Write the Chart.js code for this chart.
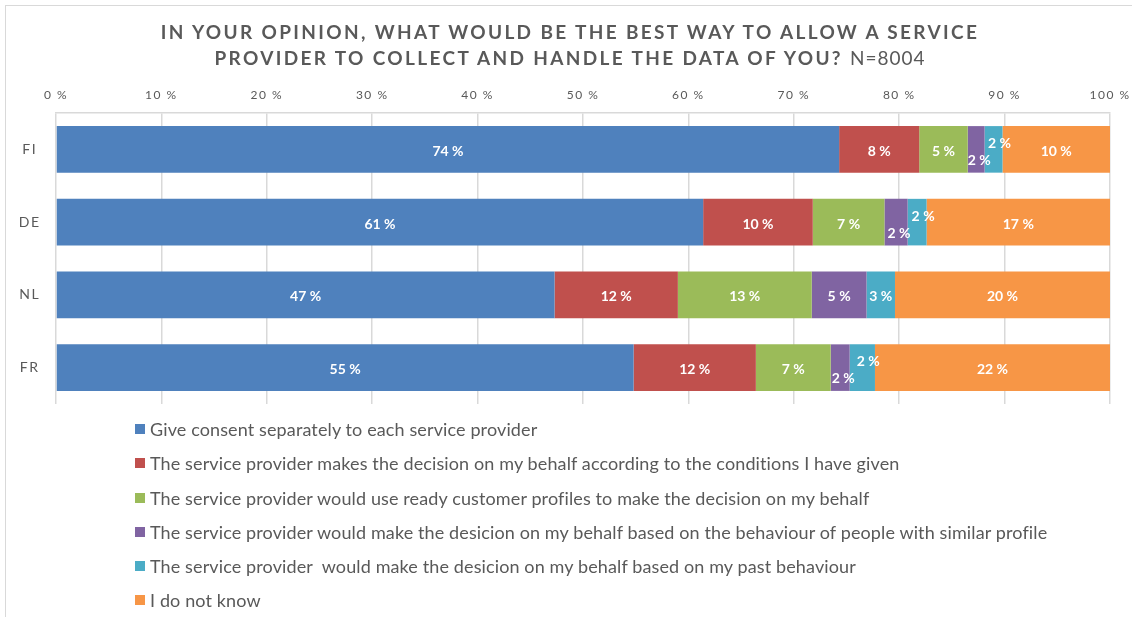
<!DOCTYPE html>
<html>
<head>
<meta charset="utf-8">
<script src="https://cdn.jsdelivr.net/npm/chart.js@4"></script>
<style>
  html, body { margin: 0; padding: 0; background: #fff; }
  #wrap { position: relative; width: 1132px; height: 617px; overflow: hidden; }
  #frame { position: absolute; left: 5px; top: 5px; width: 1140px; height: 630px;
           border-left: 1.5px solid #d9d9d9; border-top: 1.5px solid #d9d9d9; }
  #chart { position: absolute; left: 0; top: 0; }
  .title { position: absolute; left: 4px; width: 1132px; text-align: center;
           font-family: Lato, sans-serif; font-weight: bold; font-size: 19px;
           letter-spacing: 2.35px; color: #595959; white-space: nowrap; }
  .title span { font-weight: normal; letter-spacing: 1px; }
  #legend { position: absolute; left: 135px; top: 418px; font-family: Lato, sans-serif;
            font-size: 18px; letter-spacing: 0.12px; color: #595959; }
  .item { height: 34.3px; display: flex; align-items: flex-start; white-space: pre; }
  .box { width: 10px; height: 10px; margin: 6px 5px 0 0; flex: none; }
</style>
</head>
<body>
<div id="wrap">
  <div id="frame"></div>
  <canvas id="chart" width="1132" height="617"></canvas>
  <div class="title" style="top:20px">IN YOUR OPINION, WHAT WOULD BE THE BEST WAY TO ALLOW A SERVICE</div>
  <div class="title" style="top:46px">PROVIDER TO COLLECT AND HANDLE THE DATA OF YOU? <span>N=8004</span></div>
  <div id="legend"></div>
</div>
<script>
// countries, top to bottom
const countries = ['FI', 'DE', 'NL', 'FR'];

// answer shares per country, in %
const consentEach   = [74.3, 61.4, 47.3, 54.8];
const byConditions  = [7.6, 10.4, 11.7, 11.6];
const readyProfiles = [4.6, 6.8, 12.7, 7.1];
const similarPeople = [1.6, 2.2, 5.2, 1.8];
const pastBehaviour = [1.7, 1.8, 2.7, 2.4];
const dontKnow      = [10.2, 17.4, 20.4, 22.3];

const seriesNames = [
	'Give consent separately to each service provider',
	'The service provider makes the decision on my behalf according to the conditions I have given',
	'The service provider would use ready customer profiles to make the decision on my behalf',
	'The service provider would make the desicion on my behalf based on the behaviour of people with similar profile',
	'The service provider  would make the desicion on my behalf based on my past behaviour',
	'I do not know'
];
const seriesValues = [consentEach, byConditions, readyProfiles, similarPeople, pastBehaviour, dontKnow];
const colors = ['#4f81bd', '#c0504d', '#9bbb59', '#8064a2', '#4bacc6', '#f79646'];

const xTicks = [0, 10, 20, 30, 40, 50, 60, 70, 80, 90, 100];

const gray = '#595959';

// white value labels inside the bars; the tiny purple/teal ones get nudged apart
const barLabels = {
	id: 'barLabels',
	beforeDraw(chart) {
		chart.ctx.letterSpacing = '1.5px';
	},
	afterDatasetsDraw(chart) {
		const ctx = chart.ctx;
		ctx.save();
		ctx.letterSpacing = '0px';
		ctx.font = 'bold 14px Lato, sans-serif';
		ctx.fillStyle = '#fff';
		ctx.textAlign = 'center';
		ctx.textBaseline = 'middle';
		chart.data.datasets.forEach((ds, i) => {
			chart.getDatasetMeta(i).data.forEach((bar, j) => {
				const v = ds.data[j];
				const p = bar.getProps(['x', 'y', 'base'], true);
				let x = (p.x + p.base) / 2, y = p.y + 2;
				if (v < 2.5 && i === 3) { x += 3; y += 9; }
				if (v < 2.5 && i === 4) { x += 6; y -= 8; }
				ctx.fillText(Math.round(v) + ' %', x, y);
			});
		});
		ctx.restore();
	}
};

new Chart(document.getElementById('chart'), {
	type: 'bar',
	data: {
		labels: countries,
		datasets: seriesValues.map((vals, i) => ({
			label: seriesNames[i],
			data: vals,
			backgroundColor: colors[i],
			borderWidth: 0,
			categoryPercentage: 1,
			barPercentage: 0.64
		}))
	},
	options: {
		indexAxis: 'y',
		responsive: false,
		animation: false,
		layout: { padding: { top: 0, left: 0, right: 22, bottom: 213 } },
		plugins: {
			legend: { display: false },
			title: { display: false },
			tooltip: { enabled: false }
		},
		scales: {
			x: {
				position: 'top',
				stacked: true,
				min: 0,
				max: 100,
				afterFit: s => { s.height = 113; s.paddingLeft = 0; s.paddingRight = 0; },
				afterBuildTicks: s => { s.ticks = xTicks.map(v => ({ value: v })); },
				ticks: {
					padding: 11,
					color: gray,
					font: { family: 'Lato, sans-serif', size: 12 },
					callback: v => v + ' %'
				},
				grid: { color: '#d9d9d9', lineWidth: 1.5, drawTicks: false },
				border: { display: true, color: '#d9d9d9', width: 1.5 }
			},
			y: {
				stacked: true,
				afterFit: s => { s.width = 56; },
				ticks: {
					padding: 17,
					crossAlign: 'center',
					color: gray,
					font: { family: 'Lato, sans-serif', size: 14 }
				},
				grid: { display: false, drawTicks: false },
				border: { display: false }
			}
		}
	},
	plugins: [barLabels]
});

// legend, one entry per line
const legend = document.getElementById('legend');
seriesNames.forEach((name, i) => {
	const row = document.createElement('div');
	row.className = 'item';
	const box = document.createElement('div');
	box.className = 'box';
	box.style.background = colors[i];
	const text = document.createElement('div');
	text.textContent = name;
	row.appendChild(box);
	row.appendChild(text);
	legend.appendChild(row);
});
</script>
</body>
</html>
